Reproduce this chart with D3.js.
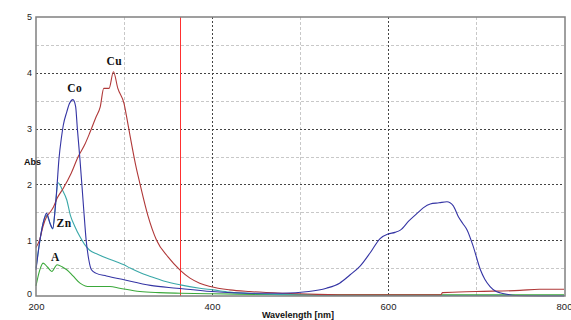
<!DOCTYPE html>
<html>
<head>
<meta charset="utf-8">
<script src="https://cdn.jsdelivr.net/npm/d3@7"></script>
<style>
html,body{margin:0;padding:0;background:#fff;}
svg{display:block;}
</style>
</head>
<body>
<svg id="chart" width="571" height="320"></svg>
<script>
// ---- data ----
const coWl  = [200,204,208,212,216,219,222,224,226,229,231,235,238,242,245,247,250,254,257,260,263,268,280,300,330,360,400,440,480,510,530,545,557,568,580,591,600,608,614,624,633,640,648,658,667,674,680,685,690,697,705,710,716,722,727,735,745,800];
const coAbs = [0.47,0.95,1.3,1.48,1.3,1.21,1.6,2.0,2.44,2.85,3.06,3.3,3.45,3.52,3.4,3.0,2.44,1.6,1.0,0.65,0.47,0.41,0.36,0.29,0.19,0.14,0.08,0.05,0.05,0.08,0.14,0.23,0.38,0.53,0.78,1.03,1.11,1.14,1.18,1.35,1.48,1.58,1.65,1.67,1.69,1.62,1.42,1.3,1.18,0.88,0.47,0.3,0.17,0.09,0.06,0.03,0.01,0.0];

const cuWl  = [200,204,208,212,216,220,224,231,240,248,255,261,268,273,277,283,288,293,300,303,307,314,318,327,337,350,364,375,386,398,420,443,480,520,560,620,660,662,700,750,772,800];
const cuAbs = [0.87,1.0,1.25,1.42,1.5,1.6,1.75,1.93,2.2,2.5,2.7,2.92,3.2,3.39,3.72,3.72,4.02,3.72,3.45,3.21,2.86,2.29,2.02,1.45,1.0,0.7,0.46,0.32,0.23,0.17,0.11,0.08,0.05,0.03,0.02,0.02,0.02,0.06,0.08,0.1,0.12,0.12];

const znWl  = [200,204,208,212,216,219,222,225,230,235,239,244,250,255,261,270,280,292,300,307,318,330,345,364,386,401,420,450,500,550,800];
const znAbs = [0.5,0.95,1.3,1.45,1.3,1.2,1.6,2.03,1.9,1.72,1.45,1.25,1.06,0.93,0.82,0.75,0.68,0.61,0.56,0.5,0.42,0.35,0.27,0.2,0.14,0.11,0.07,0.04,0.02,0.01,0.01];

const aWl   = [200,204,208,213,218,224,230,235,242,250,256,261,284,295,318,340,364,400,450,500,600,800];
const aAbs  = [0.18,0.45,0.59,0.52,0.44,0.56,0.52,0.47,0.36,0.23,0.18,0.17,0.17,0.14,0.08,0.06,0.05,0.04,0.03,0.02,0.02,0.02];

const markerWl = 363.6;

const xTicks = [200,400,600,800];
const xMinor = [300,500,700];
const yTicks = [0,1,2,3,4,5];
const yMinor = [0.5,1.5,2.5,3.5,4.5];

const seriesLabels = [
  {text:"Co", wl:244, abs:3.65},
  {text:"Cu", wl:289, abs:4.14},
  {text:"Zn", wl:232, abs:1.24},
  {text:"A",  wl:222, abs:0.62}
];

// ---- chart ----
const svg = d3.select("#chart");
const L = 36, R = 564, T = 17, B = 296;
const x = d3.scaleLinear().domain([200,800]).range([L,R]);
const y = d3.scaleLinear().domain([0,5]).range([B,T]);

const g = svg.append("g");

// minor grid (light gray)
g.selectAll(".vmin").data(xMinor).enter().append("line")
  .attr("x1",d=>Math.round(x(d))+0.5).attr("x2",d=>Math.round(x(d))+0.5)
  .attr("y1",T).attr("y2",B)
  .attr("stroke","#c8c8c8").attr("stroke-dasharray","3,2");
g.selectAll(".hmin").data(yMinor).enter().append("line")
  .attr("y1",d=>Math.round(y(d))+0.5).attr("y2",d=>Math.round(y(d))+0.5)
  .attr("x1",L).attr("x2",R)
  .attr("stroke","#c8c8c8").attr("stroke-dasharray","3,2");
// major grid (dark dotted)
g.selectAll(".vmaj").data([400,600]).enter().append("line")
  .attr("x1",d=>Math.round(x(d))+0.5).attr("x2",d=>Math.round(x(d))+0.5)
  .attr("y1",T).attr("y2",B)
  .attr("stroke","#444").attr("stroke-dasharray","2,2");
g.selectAll(".hmaj").data([1,2,3,4]).enter().append("line")
  .attr("y1",d=>Math.round(y(d))+0.5).attr("y2",d=>Math.round(y(d))+0.5)
  .attr("x1",L).attr("x2",R)
  .attr("stroke","#444").attr("stroke-dasharray","2,2");

// red marker
g.append("line")
  .attr("x1",Math.round(x(markerWl))+0.5).attr("x2",Math.round(x(markerWl))+0.5)
  .attr("y1",T).attr("y2",B)
  .attr("stroke","#ff3030").attr("stroke-width",1);

const line = d3.line().x(d=>x(d[0])).y(d=>y(d[1])).curve(d3.curveMonotoneX);
const series = [
  {wl:aWl, v:aAbs, c:"#3aa83a"},
  {wl:znWl, v:znAbs, c:"#3aa8a8"},
  {wl:cuWl, v:cuAbs, c:"#b03838"},
  {wl:coWl, v:coAbs, c:"#3434a4"}
];
series.forEach(s=>{
  g.append("path").datum(d3.zip(s.wl,s.v))
    .attr("d",line).attr("fill","none")
    .attr("stroke",s.c).attr("stroke-width",1.1);
});

// frame
g.append("rect").attr("x",L).attr("y",T).attr("width",R-L+1).attr("height",B-T)
  .attr("fill","none").attr("stroke","#808080").attr("stroke-width",1.5);

// axes labels
const yAxis = d3.axisLeft(y).tickValues(yTicks).tickSize(0).tickPadding(4).tickFormat(d3.format("d"));
const ya = svg.append("g").attr("transform",`translate(${L},0)`).call(yAxis);
ya.select(".domain").remove();
ya.selectAll("text").attr("font-family","Liberation Sans, Arial, sans-serif").attr("font-size","9px").attr("fill","#222");
ya.selectAll(".tick").filter(d=>d===0).select("text").attr("dy","0.1em");

const xAxis = d3.axisBottom(x).tickValues(xTicks).tickSize(0).tickPadding(7).tickFormat(d3.format("d"));
const xa = svg.append("g").attr("transform",`translate(0,${B})`).call(xAxis);
xa.select(".domain").remove();
xa.selectAll("text").attr("font-family","Liberation Sans, Arial, sans-serif").attr("font-size","9.5px").attr("fill","#222");

svg.append("text").attr("x",24).attr("y",165).text("Abs")
  .attr("font-family","Liberation Sans, Arial, sans-serif").attr("font-weight","bold").attr("font-size","9px").attr("fill","#111");
svg.append("text").attr("x",298).attr("y",318).attr("text-anchor","middle").text("Wavelength [nm]")
  .attr("font-family","Liberation Sans, Arial, sans-serif").attr("font-weight","bold").attr("font-size","9px").attr("fill","#111");

// series labels
svg.selectAll(".slab").data(seriesLabels).enter().append("text")
  .attr("x",d=>x(d.wl)).attr("y",d=>y(d.abs)).attr("text-anchor","middle")
  .text(d=>d.text)
  .attr("font-family","Liberation Serif, Times New Roman, serif").attr("font-weight","bold")
  .attr("font-size","11.5px").attr("letter-spacing","0.5px").attr("fill","#111");
</script>
</body>
</html>
